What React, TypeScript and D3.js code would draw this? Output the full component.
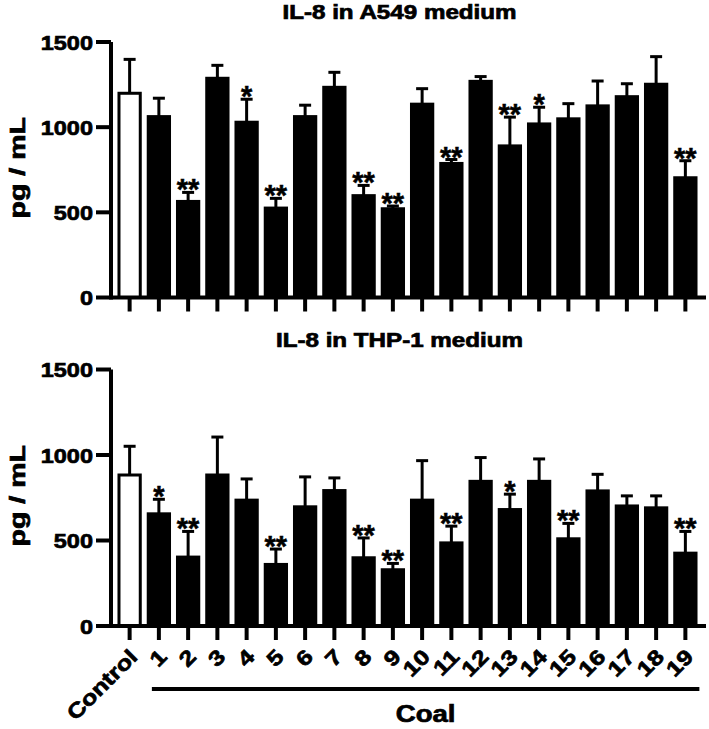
import React from "react";
import * as d3 from "d3";

const categories = ["Control", "1", "2", "3", "4", "5", "6", "7", "8", "9", "10", "11", "12", "13", "14", "15", "16", "17", "18", "19"];
const yTicks = [0, 500, 1000, 1500];

const a549Mean = [1199, 1062, 564, 1287, 1029, 525, 1062, 1234, 598, 521, 1135, 787, 1269, 890, 1019, 1049, 1125, 1179, 1252, 703];
const a549Err = [199, 108, 53, 76, 135, 57, 67, 88, 60, 16, 91, 23, 28, 169, 98, 89, 146, 76, 162, 100];
const a549Sig = ["", "", "**", "", "*", "**", "", "", "**", "**", "", "**", "", "**", "*", "", "", "", "", "**"];

const thpMean = [883, 656, 403, 883, 736, 360, 697, 792, 399, 329, 736, 486, 846, 681, 846, 510, 790, 702, 691, 426];
const thpErr = [168, 85, 150, 222, 124, 90, 175, 74, 116, 37, 231, 98, 139, 90, 131, 90, 97, 59, 70, 127];
const thpSig = ["", "*", "**", "", "", "**", "", "", "**", "**", "", "**", "", "*", "", "**", "", "", "", "**"];

const FONT = "'Liberation Sans', Arial, Helvetica, sans-serif";

const x = d3.scaleBand<string>().domain(categories).range([115, 700]).paddingInner(0.17).paddingOuter(0.085);
const AXIS_X = 111;
const AXIS_END = 706;

const textStyle = { fontWeight: "bold" as const, fontFamily: FONT, stroke: "#000", strokeWidth: 0.7 };

type PanelProps = {
  title: string;
  titleY: number;
  yPix0: number;
  yPixMax: number;
  means: number[];
  errs: number[];
  sigs: string[];
};

function Panel({ title, titleY, yPix0, yPixMax, means, errs, sigs }: PanelProps) {
  const y = d3.scaleLinear().domain([0, 1500]).range([yPix0, yPixMax]);
  const bw = x.bandwidth();
  const midY = (yPix0 + yPixMax) / 2;
  return (
    <g>
      <text
        transform={`translate(${(AXIS_X + AXIS_END) / 2 - 9},${titleY}) scale(1.24,1)`}
        textAnchor="middle"
        fontSize={19.5}
        style={textStyle}
      >
        {title}
      </text>
      <text
        transform={`translate(25,${midY - 2}) rotate(-90) scale(1.3,1)`}
        textAnchor="middle"
        fontSize={22}
        style={textStyle}
      >
        pg / mL
      </text>
      {categories.map((c, i) => {
        const bx = x(c)!;
        const cx = bx + bw / 2;
        const top = y(means[i]);
        const errTop = y(means[i] + errs[i]);
        return (
          <g key={c}>
            <line x1={cx} x2={cx} y1={top} y2={errTop} stroke="#000" strokeWidth={3} />
            <line x1={cx - 6} x2={cx + 6} y1={errTop} y2={errTop} stroke="#000" strokeWidth={3} />
            <rect
              x={bx + 1.5}
              y={top}
              width={bw - 3}
              height={yPix0 - top}
              fill={i === 0 ? "#fff" : "#000"}
              stroke="#000"
              strokeWidth={3}
            />
            {sigs[i] && (
              <text x={cx} y={errTop + 7} textAnchor="middle" fontSize={29} style={{ ...textStyle, strokeWidth: 0.5 }}>
                {sigs[i]}
              </text>
            )}
            <line x1={cx} x2={cx} y1={yPix0} y2={yPix0 + 14} stroke="#000" strokeWidth={4} />
          </g>
        );
      })}
      <line x1={AXIS_X} x2={AXIS_X} y1={yPixMax} y2={yPix0 + 2} stroke="#000" strokeWidth={4} />
      <line x1={AXIS_X} x2={AXIS_END} y1={yPix0} y2={yPix0} stroke="#000" strokeWidth={4} />
      {yTicks.map((t) => (
        <g key={t}>
          <line x1={96} x2={AXIS_X} y1={y(t)} y2={y(t)} stroke="#000" strokeWidth={4} />
          <text
            transform={`translate(93,${y(t)}) scale(1.12,1)`}
            dy="0.36em"
            textAnchor="end"
            fontSize={21}
            style={textStyle}
          >
            {t}
          </text>
        </g>
      ))}
    </g>
  );
}

export default function App() {
  const bw = x.bandwidth();
  const c1 = x("1")! + bw / 2;
  const c19 = x("19")! + bw / 2;
  return (
    <svg
      width={709}
      height={729}
      style={{ position: "absolute", left: 0, top: 0, display: "block", background: "#fff" }}
    >
      <rect x={0} y={0} width={709} height={729} fill="#fff" />
      <Panel title="IL-8 in A549 medium" titleY={19} yPix0={297.5} yPixMax={42} means={a549Mean} errs={a549Err} sigs={a549Sig} />
      <Panel title="IL-8 in THP-1 medium" titleY={347} yPix0={626} yPixMax={369.5} means={thpMean} errs={thpErr} sigs={thpSig} />
      {categories.map((c) => {
        const cx = x(c)! + bw / 2;
        return (
          <text
            key={c}
            transform={`translate(${cx + 4},${653}) rotate(-45) scale(1.2,1)`}
            dy="0.35em"
            textAnchor="end"
            fontSize={21}
            style={textStyle}
          >
            {c}
          </text>
        );
      })}
      <line x1={c1 - 7} x2={c19 + 14} y1={689} y2={689} stroke="#000" strokeWidth={4} />
      <text
        transform={`translate(${(c1 - 7 + c19 + 14) / 2},722) scale(1.2,1)`}
        textAnchor="middle"
        fontSize={23}
        style={textStyle}
      >
        Coal
      </text>
    </svg>
  );
}
